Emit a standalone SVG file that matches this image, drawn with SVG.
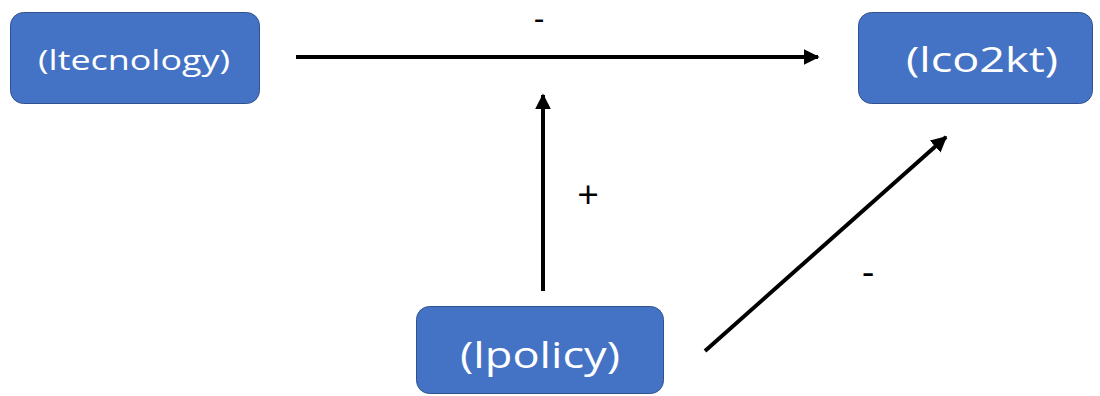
<svg xmlns="http://www.w3.org/2000/svg" width="1100" height="396" viewBox="0 0 1100 396">
<style>
.box{fill:#4472C4;stroke:#2F528F;stroke-width:1}
.lbl{fill:#fff;font-family:"Open Sans","Liberation Sans",sans-serif;text-anchor:middle}
.edge{stroke:#000;stroke-width:4;fill:none;marker-end:url(#ah)}
.sign{fill:#000;font-family:"Open Sans","Liberation Sans",sans-serif;font-size:38px;text-anchor:middle}
.top{font-family:"Liberation Sans",sans-serif;font-size:32px}
</style>
<defs>
<marker id="ah" viewBox="0 0 10 10" refX="9" refY="5" markerWidth="4" markerHeight="4" orient="auto" markerUnits="strokeWidth">
<path d="M0,0 L10,5 L0,10 Z" fill="#000"/>
</marker>
</defs>
<g id="n-ltecnology">
<rect class="box" x="10.5" y="12.5" width="249" height="91" rx="13"/>
<text class="lbl" x="134" y="70" font-size="28" textLength="192" lengthAdjust="spacingAndGlyphs">(ltecnology)</text>
</g>
<g id="n-lco2kt">
<rect class="box" x="858.5" y="12.5" width="234" height="91" rx="13"/>
<text class="lbl" x="982" y="72" font-size="34" textLength="152" lengthAdjust="spacingAndGlyphs">(lco2kt)</text>
</g>
<g id="n-lpolicy">
<rect class="box" x="416.5" y="306.5" width="247" height="87" rx="13"/>
<text class="lbl" x="540" y="368" font-size="36" textLength="160" lengthAdjust="spacingAndGlyphs">(lpolicy)</text>
</g>
<g id="connectors">
<line class="edge" x1="296" y1="57" x2="818" y2="57"/>
<line class="edge" x1="543" y1="291" x2="543" y2="95"/>
<line class="edge" x1="705" y1="351" x2="946" y2="137"/>
<text class="sign top" x="539" y="29">-</text>
<text class="sign" x="588" y="208">+</text>
<text class="sign" x="868" y="285">-</text>
</g>
</svg>
